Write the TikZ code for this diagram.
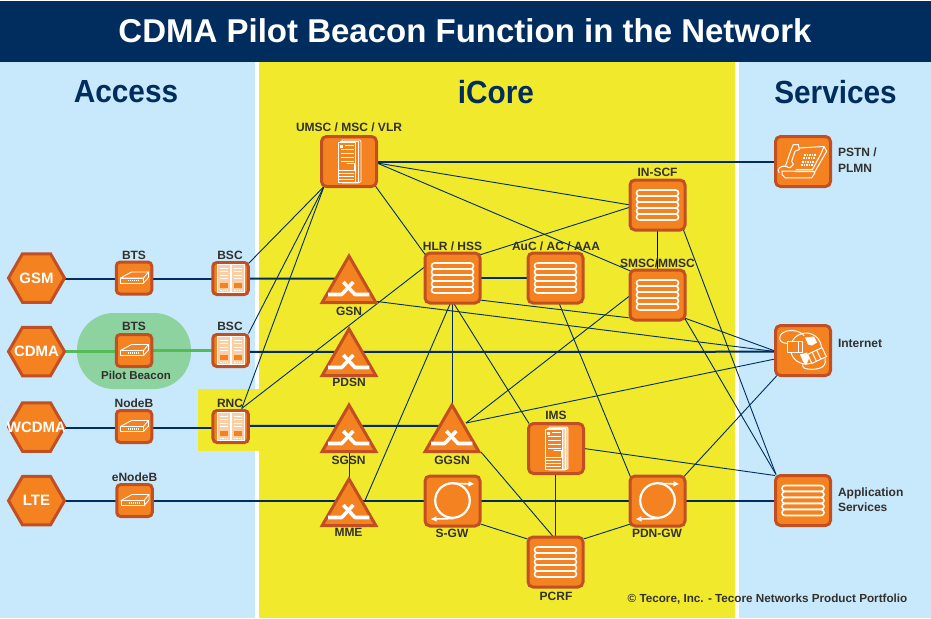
\documentclass[tikz,border=0pt]{standalone}
\usepackage{fontspec}
\setmainfont{Liberation Sans}
\usetikzlibrary{shapes.geometric,arrows.meta}
\definecolor{navy}{HTML}{002D5E}
\definecolor{skyb}{HTML}{C8E9FB}
\definecolor{yell}{HTML}{F1EA2C}
\definecolor{orng}{HTML}{F58220}
\definecolor{bord}{HTML}{C24F24}
\definecolor{peach}{HTML}{FBCFA5}
\definecolor{ovalg}{HTML}{8DD3A0}
\definecolor{lineg}{HTML}{56BB55}
\definecolor{txt}{HTML}{33302E}
\pgfdeclarelayer{bg}
\pgfdeclarelayer{conn}
\pgfsetlayers{bg,conn,main}
\tikzset{
  region/.style={inner sep=0,outer sep=0,draw=none},
  bigbox/.style={draw=bord,fill=orng,line width=3pt,rounded corners=5pt,minimum width=55pt,minimum height=50pt,inner sep=0,outer sep=0},
  smallbox/.style={draw=bord,fill=orng,line width=3pt,rounded corners=4pt,minimum width=35.5pt,minimum height=32pt,inner sep=0,outer sep=0},
  tri/.style={regular polygon,regular polygon sides=3,draw=bord,fill=orng,line width=3pt,minimum size=62pt,inner sep=0,outer sep=0},
  hexa/.style={regular polygon,regular polygon sides=6,draw=bord,fill=orng,line width=3pt,minimum size=56pt,inner sep=0,outer sep=0,text=white,font=\fontsize{15}{15}\selectfont\bfseries},
  lab/.style={text=txt,font=\fontsize{12}{13}\selectfont\bfseries,inner sep=0,outer sep=0},
  sidelab/.style={lab,anchor=west,align=left,font=\fontsize{12}{15.5}\selectfont\bfseries},
  head/.style={text=navy,font=\fontsize{32}{32}\selectfont\bfseries,inner sep=0,xscale=0.93},
  thinl/.style={draw=navy,line width=0.9pt},
  thickl/.style={draw=navy,line width=2pt},
  greenl/.style={draw=lineg,line width=2.2pt},
  ic/.style={draw=white,line width=1pt,line join=round,line cap=round},
}
\newcommand\lnk[4]{\draw[thinl] ([shift={(#2)}]#1.center) -- ([shift={(#4)}]#3.center);}
\newcommand\thk[4]{\draw[thickl] ([shift={(#2)}]#1.center) -- ([shift={(#4)}]#3.center);}
\newcommand\icoDB[1]{\begin{scope}[shift={(#1.center)}]
  \foreach \yy in {-15,-9,-3,3,9}{\draw[ic,line width=1.6pt,rounded corners=2.9pt,fill=orng] (-21,\yy) rectangle (21,\yy+6);}
\end{scope}}
\newcommand\icoX[1]{\begin{scope}[shift={(#1.center)}]
  \draw[draw=white,line width=3.6pt,line join=round] (-21,7.5) -- (-7.3,7.5) -- (4.3,-5);
  \draw[draw=white,line width=3.6pt,line join=round] (20.3,7.5) -- (6,7.5) -- (-5.7,-5);
\end{scope}}
\newcommand\icoLoop[1]{\begin{scope}[shift={(#1.center)}]
  \draw[draw=white,line width=2.2pt] (0,-0.5) circle (17.3);
  \draw[draw=white,line width=1.6pt,-{Latex[length=6pt,width=6pt]}] (1,-17.6) -- (22,-17);
  \draw[draw=white,line width=1.6pt,-{Latex[length=6pt,width=6pt]}] (1,17.6) -- (-22,18);
\end{scope}}
\newcommand\icoBTS[1]{\begin{scope}[shift={(#1.center)}]
  \draw[ic,line width=0.9pt] (-13.5,0) -- (-2.5,-6) -- (14.5,-6) -- (9.5,0) -- cycle;
  \draw[ic,line width=0.9pt] (-13.5,0) rectangle (9.5,5);
  \draw[ic,line width=0.9pt] (9.5,5) -- (14.5,-0.5) -- (14.5,-6);
  \draw[draw=white,line width=1.6pt,dash pattern=on 1pt off 1pt] (-6,2.6) -- (5,2.6);
\end{scope}}
\newcommand\icoRack[1]{\begin{scope}[shift={(#1.center)}]
  \foreach \xx in {-13,1}{
    \fill[peach] (\xx,-14) rectangle (\xx+12.5,14);
    \draw[draw=white,line width=0.9pt] (\xx,-14) rectangle (\xx+12.5,14);
    \foreach \yy in {-10.5,-7,-3.5,0}{\draw[draw=white,line width=1pt] (\xx+2,\yy) -- (\xx+10.5,\yy);}
    \fill[orng] (\xx+2,4.5) rectangle (\xx+10.5,9.5);
    \draw[draw=white,line width=1pt,dash pattern=on 1pt off 0.8pt] (\xx+2,11.5) -- (\xx+10.5,11.5);
  }
\end{scope}}
\newcommand\icoSrv[2]{\begin{scope}[shift={(#1.center)}]
  \draw[ic,line width=0.8pt,fill=#2] (-7,-21.5) -- (11,-21.5) -- (12,-20) -- (12,20) -- (9,21.5) -- (-7,21.5) -- cycle;
  \draw[ic,line width=0.8pt,fill=#2] (-9,-20.5) -- (9,-20.5) -- (9,21) -- (-9,21) -- cycle;
  \draw[ic,line width=0.9pt,fill=orng] (-11,-19) rectangle (6.5,21);
  \foreach \yy in {-12,-8,-4,0}{\draw[draw=white,line width=1pt] (-8,\yy) -- (5,\yy);}
  \foreach \yy in {12,15,18}{\draw[draw=white,line width=1pt] (-10,\yy) -- (5,\yy);}
  \draw[ic,line width=0.8pt] (-10.5,4) -- (-10.5,9) -- (5,9) -- (5,2) -- (-2,2);
  \fill[white] (-9.5,-17) rectangle (-6.5,-14);
  \draw[draw=white,line width=0.8pt] (-4,-16) -- (4.5,-16);
\end{scope}}
\newcommand\icoPhone[1]{\begin{scope}[shift={(#1.center)}]
  \draw[ic] (-16.3,1.3) .. controls (-14,-6) and (-12,-12) .. (-9.7,-17) -- (-4.7,-17) -- (-3.7,-12) -- (-8,-10.3) -- (-11.3,-0.3) -- (-9.7,3) -- (-13,6.3) -- (-18,4.7) -- cycle;
  \draw[ic] (-4,-13.5) -- (21,-15) -- (23.7,-10.3) -- (12,10) -- (-8,10);
  \draw[ic] (21,-15) -- (18,-8) -- (9.5,8) -- (-7,8);
  \draw[ic] (-21,9.7) -- (10,9.7) -- (12,11.3) -- (8.7,16.3) -- (-18,16.3);
  \draw[ic] (-18,16.3) -- (-21,13) -- (-21,9.7);
  \draw[ic] (-16,5) .. controls (-22,3) and (-27,8) .. (-24,11);
  \foreach \yy/\sft in {-7/2,-3.5/1,0/0,3.5/-1}{\draw[draw=white,line width=2pt,dash pattern=on 1.6pt off 0.9pt] (-1+\sft,\yy) -- (11+\sft,\yy);}
\end{scope}}
\newcommand\icoGlobe[1]{\begin{scope}[shift={(#1.center)}]
  \draw[ic] (3,-2) circle (15.5);
  \draw[ic] (-15,-7) .. controls (-28,-7) and (-25,-20) .. (-12,-20) .. controls (-6,-20) and (-2,-18) .. (1,-15);
  \draw[ic] (22,8) .. controls (25,19) and (10,20) .. (2,18) .. controls (0,17) and (-1,16) .. (0,13);
  \fill[white] (2,-13) -- (11,-14) -- (14,-8) -- (9,-5) -- (5,-6) -- cycle;
  \fill[white] (-3,4) -- (4,2) -- (6,8) -- (3,15) -- (0,11) -- cycle;
  \draw[ic,fill=orng] (-15.5,-9) rectangle (-4.5,2);
  \draw[ic,fill=orng] (-4.5,-9) rectangle (-1,2);
  \draw[ic,fill=orng,rotate around={25:(14,5)}] (6,0) rectangle (22,10);
  \draw[ic,rotate around={25:(14,5)}] (11,0) -- (11,10) (16,0) -- (16,10);
\end{scope}}
\begin{document}
\begin{tikzpicture}[x=1pt,y=-1pt]
\useasboundingbox (0,0) rectangle (931,618);
\begin{pgfonlayer}{bg}
  \fill[white] (0,0) rectangle (931,618);
  \fill[navy] (0,1) rectangle (931,62);
  \fill[skyb] (0,62) rectangle (255,618);
  \fill[yell] (259,62) rectangle (735,618);
  \fill[skyb] (739,62) rectangle (931,618);
  \fill[yell] (198,389) rectangle (259,451);
  \node[region,fill=ovalg,rounded corners=37pt,minimum width=114pt,minimum height=76pt] (pilot) at (134,351) {};
\end{pgfonlayer}
% titles
\node[text=white,inner sep=0,font=\fontsize{33}{33}\selectfont\bfseries] (title) at (465,31) {CDMA Pilot Beacon Function in the Network};
\node[head] (haccess) at (126,92) {Access};
\node[head] (hicore) at (496,92) {iCore};
\node[head] (hserv) at (835.5,92) {Services};
% access
\node[hexa] (gsm) at (36.5,278) {\makebox[0pt]{GSM}};
\node[hexa] (cdma) at (36.5,351.5) {\makebox[0pt]{CDMA}};
\node[hexa] (wcdma) at (36.5,427) {\makebox[0pt]{WCDMA}};
\node[hexa] (lte) at (36.5,500.7) {\makebox[0pt]{LTE}};
\node[smallbox] (btsa) at (134,278) {};
\node[smallbox] (btsb) at (134,350.5) {};
\node[smallbox] (nodeb) at (134,426.5) {};
\node[smallbox] (enodeb) at (134.5,500.5) {};
\node[smallbox] (bsca) at (230.5,278.5) {};
\node[smallbox] (bscb) at (230.5,350.5) {};
\node[smallbox] (rnc) at (230.7,426.5) {};
% core
\node[bigbox] (umsc) at (349,161.5) {};
\node[bigbox] (hlr) at (452.5,278) {};
\node[bigbox] (auc) at (555.5,278) {};
\node[bigbox] (inscf) at (657.5,205) {};
\node[bigbox] (smsc) at (657.5,295) {};
\node[bigbox] (ims) at (556,448.5) {};
\node[bigbox] (sgw) at (452.5,501) {};
\node[bigbox] (pdngw) at (657.5,501) {};
\node[bigbox] (pcrf) at (555.5,562) {};
\node[tri] (gsn) at (349,287) {};
\node[tri] (pdsn) at (349,360) {};
\node[tri] (sgsn) at (349,436) {};
\node[tri] (mme) at (349,510) {};
\node[tri] (ggsn) at (452,436) {};
% services
\node[bigbox] (pstn) at (803,161.5) {};
\node[bigbox] (inet) at (803,350.5) {};
\node[bigbox] (apps) at (803,500.5) {};
% icons
\icoBTS{btsa}\icoBTS{btsb}\icoBTS{nodeb}\icoBTS{enodeb}
\icoRack{bsca}\icoRack{bscb}\icoRack{rnc}
\icoSrv{umsc}{orng}\icoSrv{ims}{peach}
\icoDB{hlr}\icoDB{auc}\icoDB{inscf}\icoDB{smsc}\icoDB{pcrf}\icoDB{apps}
\icoX{gsn}\icoX{pdsn}\icoX{sgsn}\icoX{mme}\icoX{ggsn}
\icoLoop{sgw}\icoLoop{pdngw}
\icoPhone{pstn}\icoGlobe{inet}
% labels
\node[lab] (lbtsa) at (134,255) {BTS};
\node[lab] (lbsca) at (230,255) {BSC};
\node[lab] (lbtsb) at (134,326) {BTS};
\node[lab] (lbscb) at (230,326) {BSC};
\node[lab,font=\fontsize{11.5}{13}\selectfont\bfseries] (lpilot) at (136,375) {Pilot Beacon};
\node[lab] (lnodeb) at (134,403) {NodeB};
\node[lab] (lrnc) at (230,403) {RNC};
\node[lab] (lenodeb) at (134.5,477) {eNodeB};
\node[lab] (lumsc) at (349,127.5) {UMSC / MSC / VLR};
\node[lab] (lhlr) at (452.5,246) {HLR / HSS};
\node[lab] (lauc) at (556,246) {AuC / AC / AAA};
\node[lab] (linscf) at (657.5,172.5) {IN-SCF};
\node[lab] (lsmsc) at (657.5,263) {SMSC/MMSC};
\node[lab] (lgsn) at (349,311) {GSN};
\node[lab] (lpdsn) at (349,382.5) {PDSN};
\node[lab] (lsgsn) at (348.5,460) {SGSN};
\node[lab] (lmme) at (348.5,532.5) {MME};
\node[lab] (lggsn) at (452,460) {GGSN};
\node[lab] (lsgw) at (452,533) {S-GW};
\node[lab] (lims) at (556,415.5) {IMS};
\node[lab] (lpcrf) at (556,596) {PCRF};
\node[lab] (lpdngw) at (657,533) {PDN-GW};
\node[sidelab] (lpstn) at (838,160) {PSTN /\\PLMN};
\node[sidelab] (linet) at (838,343.5) {Internet};
\node[sidelab] (lapps) at (838,499.5) {Application\\Services};
\node[lab,font=\fontsize{11.7}{13}\selectfont\bfseries] (lcopy) at (767.5,599.5) {© Tecore, Inc. - Tecore Networks Product Portfolio};
% connectors
\begin{pgfonlayer}{conn}
\thk{gsm}{0,0.7}{btsa}{0,0.7}
\thk{btsa}{0,0.7}{bsca}{0,0.2}
\thk{bsca}{0,0.2}{gsn}{0,-8.5}
\draw[greenl] ([shift={(0,0)}]cdma.center) -- ([shift={(0,1)}]btsb.center);
\draw[greenl] ([shift={(0,0)}]btsb.center) -- ([shift={(0,0)}]bscb.center);
\thk{bscb}{0,1.5}{inet}{0,1.2}
\thk{wcdma}{0,1}{nodeb}{0,1.5}
\thk{nodeb}{0,1.5}{rnc}{0,1.5}
\thk{rnc}{0,-0.7}{ggsn}{0,-10}
\thk{lte}{0,0.3}{enodeb}{0,0.5}
\thk{enodeb}{0,0.5}{mme}{0,-9}
\thk{mme}{0,-9}{sgw}{0,0}
\thk{sgw}{0,0}{pdngw}{0,0}
\thk{pdngw}{0,0}{apps}{0,0.5}
\thk{umsc}{0,0.5}{pstn}{0,0.5}
\thk{hlr}{0,0}{auc}{0,0}
% thin
\lnk{umsc}{-25,25}{bsca}{18,-15}
\lnk{umsc}{-25,25}{bscb}{18,-17}
\lnk{umsc}{-25,25}{rnc}{11,-18}
\lnk{rnc}{11,-18}{hlr}{-28,-11}
\lnk{umsc}{28,1.5}{inscf}{-27,0}
\lnk{umsc}{28,1.5}{smsc}{-27,-24}
\lnk{umsc}{26,24}{hlr}{-27,-23}
\lnk{hlr}{27,-23}{inscf}{-27,2}
\draw[thinl,draw=black] (inscf) -- (smsc);
\lnk{hlr}{27,22}{smsc}{-27,23}
\lnk{gsn}{28,14.5}{inet}{-28,1}
\lnk{smsc}{27,23}{inet}{-28,0.5}
\lnk{ggsn}{14,-13}{inet}{-28,8.5}
\lnk{ggsn}{14,-13}{smsc}{-28,1}
\lnk{ggsn}{0,0}{hlr}{-0.5,0}
\lnk{hlr}{-2,25}{mme}{16,-9.5}
\lnk{hlr}{1,25}{ims}{-27,-25}
\lnk{ggsn}{29,16}{pcrf}{-2,-25}
\lnk{ims}{-0.5,0}{pcrf}{0,0}
\lnk{auc}{3.5,25}{pdngw}{-27,-24}
\lnk{ims}{28,0}{apps}{-28,-25}
\lnk{pdngw}{26,-24}{inet}{-26,25}
\lnk{inscf}{26,25}{apps}{-27,-26}
\lnk{smsc}{27,23}{apps}{-27,-26}
\lnk{sgw}{28,23}{pcrf}{-28,-23}
\lnk{pcrf}{28,-23}{pdngw}{-27,23}
\lnk{sgsn}{0,0}{mme}{0,0}
\end{pgfonlayer}
\end{tikzpicture}
\end{document}
